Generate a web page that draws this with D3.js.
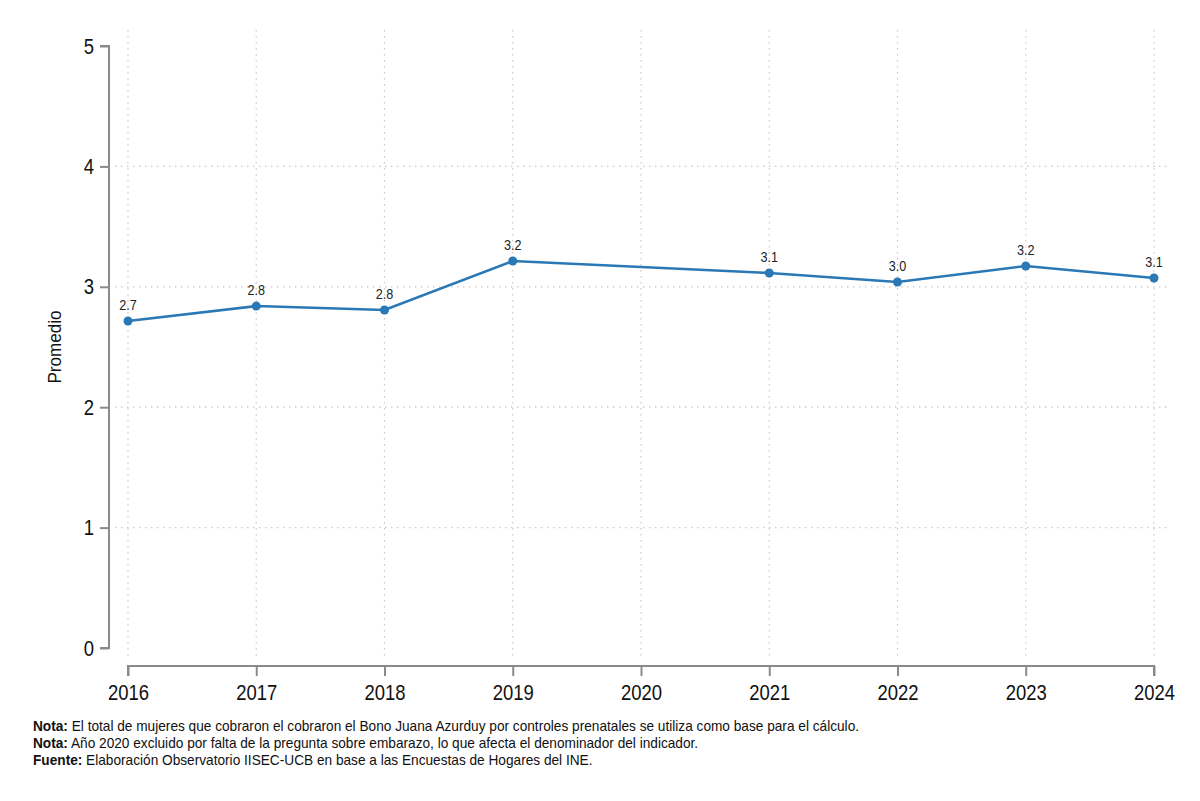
<!DOCTYPE html>
<html><head><meta charset="utf-8">
<script src="https://cdn.jsdelivr.net/npm/d3@7"></script>
<style>body{margin:0;background:#fff;} svg{display:block;font-family:"Liberation Sans Narrow","Arial Narrow","Liberation Sans",sans-serif;}</style>
</head><body>
<svg id="c" width="1200" height="801"></svg>
<script>
const years = [2016, 2017, 2018, 2019, 2021, 2022, 2023, 2024];
const values = [2.716, 2.84, 2.807, 3.214, 3.115, 3.04, 3.173, 3.073];
const valueLabels = ["2.7", "2.8", "2.8", "3.2", "3.1", "3.0", "3.2", "3.1"];
const xTicks = [2016, 2017, 2018, 2019, 2020, 2021, 2022, 2023, 2024];
const yTicks = [0, 1, 2, 3, 4, 5];
const gridY = [1, 2, 3, 4];
const notes = [
  ["Nota:", " El total de mujeres que cobraron el cobraron el Bono Juana Azurduy por controles prenatales se utiliza como base para el cálculo."],
  ["Nota:", " Año 2020 excluido por falta de la pregunta sobre embarazo, lo que afecta el denominador del indicador."],
  ["Fuente:", " Elaboración Observatorio IISEC-UCB en base a las Encuestas de Hogares del INE."]
];

const svg = d3.select("#c");
const x = d3.scaleLinear().domain([2016, 2024]).range([128, 1154]);
const y = d3.scaleLinear().domain([0, 5]).range([648, 46]);
const axisColor = "#8a8a8a";
const sx = 0.84;

// grid
svg.append("g").selectAll("line").data(xTicks).join("line")
  .attr("x1", d => x(d)).attr("x2", d => x(d)).attr("y1", 30).attr("y2", 660)
  .attr("stroke", "#c8c8c8").attr("stroke-width", 1.2).attr("stroke-dasharray", "1.5,4.5");
svg.append("g").selectAll("line").data(gridY).join("line")
  .attr("x1", 115).attr("x2", 1168).attr("y1", d => y(d)).attr("y2", d => y(d))
  .attr("stroke", "#c8c8c8").attr("stroke-width", 1.2).attr("stroke-dasharray", "1.5,4.5");

// y axis
const yAxis = svg.append("g").attr("transform", "translate(109,0)")
  .call(d3.axisLeft(y).tickValues(yTicks).tickSize(9).tickPadding(6).tickFormat(d3.format("d")));
yAxis.select(".domain").attr("stroke", axisColor).attr("stroke-width", 2).attr("d", `M-9,${y(5)}H0V${y(0)}H-9`);
yAxis.selectAll(".tick line").attr("stroke", axisColor).attr("stroke-width", 2);
yAxis.selectAll(".tick text").attr("fill", "#111").style("font-size", "22px").style("font-family", "inherit")
  .attr("x", -15 / sx).attr("transform", `scale(${sx},1)`);

// x axis
const xAxis = svg.append("g").attr("transform", "translate(0,666)")
  .call(d3.axisBottom(x).tickValues(xTicks).tickSize(10).tickPadding(8).tickFormat(d3.format("d")));
xAxis.select(".domain").attr("stroke", axisColor).attr("stroke-width", 2).attr("d", `M${x(2016)},10V0H${x(2024)}V10`);
xAxis.selectAll(".tick line").attr("stroke", axisColor).attr("stroke-width", 2);
xAxis.selectAll(".tick text").attr("fill", "#111").style("font-size", "22px").style("font-family", "inherit")
  .attr("transform", `scale(${sx},1)`);

// y title
svg.append("text").attr("transform", "translate(61,347) rotate(-90) scale(0.9,1)")
  .attr("text-anchor", "middle").style("font-size", "19px").attr("fill", "#111").text("Promedio");

// line
const data = years.map((yr, i) => ({yr, v: values[i], lab: valueLabels[i]}));
const color = "#2a78b5";
svg.append("path").datum(data)
  .attr("d", d3.line().x(d => x(d.yr)).y(d => y(d.v)))
  .attr("fill", "none").attr("stroke", color).attr("stroke-width", 2.6);
svg.append("g").selectAll("circle").data(data).join("circle")
  .attr("cx", d => x(d.yr)).attr("cy", d => y(d.v)).attr("r", 4.5).attr("fill", color);
svg.append("g").selectAll("text").data(data).join("text")
  .attr("transform", d => `translate(${x(d.yr)},${y(d.v) - 11}) scale(0.9,1)`)
  .attr("text-anchor", "middle").style("font-size", "14px").attr("fill", "#222").text(d => d.lab);

// notes
const ng = svg.append("g").attr("transform", "translate(33,0) scale(0.9,1)");
notes.forEach((n, i) => {
  const t = ng.append("text").attr("x", 0).attr("y", 731 + i * 17).style("font-size", "15.2px").attr("fill", "#111");
  t.append("tspan").style("font-weight", "bold").text(n[0]);
  t.append("tspan").text(n[1]);
});
</script>
</body></html>
